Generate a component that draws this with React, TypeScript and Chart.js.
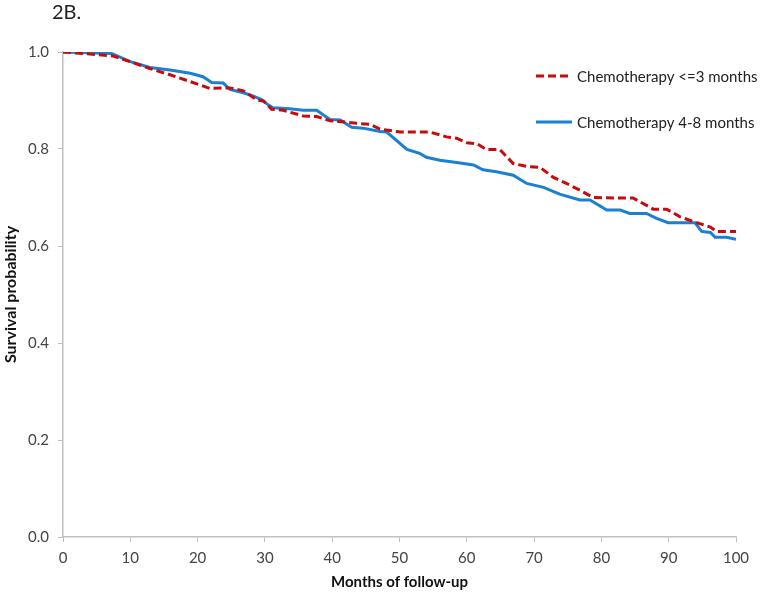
import React, { useEffect, useRef } from "react";
import { Chart, registerables } from "chart.js";

Chart.register(...registerables);

const panelTitle = "2B.";
const xTitle = "Months of follow-up";
const yTitle = "Survival probability";
const seriesLabels = ["Chemotherapy <=3 months", "Chemotherapy 4-8 months"];

const redMonths = [0, 7.4, 10, 12.9, 15.9, 18.9, 21.8, 24.8, 26.8, 28.8, 29.8, 31, 32.7, 35.7, 37.7, 39.7, 41.6, 43.6, 45.6, 47.1, 50.1, 54.5, 57, 58.5, 60, 61.5, 62.9, 64.9, 66.9, 68.9, 70.9, 72.8, 74.8, 76.8, 78.8, 81.8, 84.7, 87.7, 89.7, 91.7, 94.2, 96.2, 97.1, 100];
const redSurv = [1.0, 0.992, 0.98, 0.966, 0.953, 0.939, 0.925, 0.926, 0.92, 0.901, 0.899, 0.882, 0.88, 0.868, 0.867, 0.858, 0.856, 0.853, 0.851, 0.841, 0.835, 0.835, 0.825, 0.822, 0.813, 0.811, 0.799, 0.799, 0.77, 0.764, 0.762, 0.742, 0.729, 0.715, 0.7, 0.699, 0.699, 0.676, 0.676, 0.66, 0.648, 0.639, 0.63, 0.63];

const blueMonths = [0, 7.2, 10, 12.9, 15.9, 18.9, 20.8, 22.1, 23.8, 24.8, 26.8, 28.3, 29.5, 30.3, 31.2, 33.7, 35.7, 37.7, 38.7, 39.7, 41.2, 42.9, 44.6, 47.1, 48.1, 51.1, 53, 54, 56, 58.5, 61, 62.4, 64.4, 66.9, 68.9, 71.4, 73.8, 76.8, 78.3, 80.8, 82.8, 84.2, 86.7, 88.2, 89.9, 93.9, 94.9, 96.2, 96.9, 98.6, 100];
const blueSurv = [1.0, 0.997, 0.98, 0.968, 0.963, 0.956, 0.949, 0.937, 0.936, 0.923, 0.916, 0.909, 0.902, 0.893, 0.885, 0.883, 0.88, 0.88, 0.87, 0.861, 0.86, 0.845, 0.843, 0.836, 0.835, 0.799, 0.791, 0.783, 0.777, 0.772, 0.767, 0.757, 0.753, 0.746, 0.729, 0.721, 0.707, 0.695, 0.695, 0.674, 0.674, 0.667, 0.667, 0.657, 0.648, 0.648, 0.63, 0.628, 0.618, 0.618, 0.614];

const xTicks = [0, 10, 20, 30, 40, 50, 60, 70, 80, 90, 100];
const yTicks = [0, 0.2, 0.4, 0.6, 0.8, 1.0];

const RED = "#c80a0a";
const BLUE = "#1b80d2";
const FONT = "Lato, 'Open Sans', sans-serif";

const overlayPlugin = {
  id: "overlay",
  afterDraw(chart: any) {
    const ctx = chart.ctx;
    ctx.save();
    // panel title
    ctx.font = `20px ${FONT}`;
    ctx.fillStyle = "#222";
    ctx.textAlign = "left";
    ctx.textBaseline = "middle";
    ctx.fillText(panelTitle, 52, 13);
    // legend
    const colors = [RED, BLUE];
    const dashes = [[8, 4], []];
    const ys = [76, 122];
    seriesLabels.forEach((lab, i) => {
      ctx.beginPath();
      ctx.strokeStyle = colors[i];
      ctx.lineWidth = 3;
      ctx.setLineDash(dashes[i]);
      ctx.moveTo(536, ys[i]);
      ctx.lineTo(572, ys[i]);
      ctx.stroke();
      ctx.setLineDash([]);
      ctx.font = `15px ${FONT}`;
      ctx.fillStyle = "#222";
      ctx.textAlign = "left";
      ctx.textBaseline = "middle";
      ctx.fillText(lab, 577, ys[i] + 1);
    });
    ctx.restore();
  },
};

export default function App() {
  const ref = useRef<HTMLCanvasElement | null>(null);
  useEffect(() => {
    document.body.style.margin = "0";
    const canvas = ref.current!;
    const chart = new Chart(canvas, {
      type: "line",
      data: {
        datasets: [
          {
            label: seriesLabels[0],
            data: redMonths.map((m, i) => ({ x: m, y: redSurv[i] })),
            borderColor: RED,
            borderWidth: 3,
            borderDash: [8, 4],
            pointRadius: 0,
            tension: 0,
            fill: false,
          },
          {
            label: seriesLabels[1],
            data: blueMonths.map((m, i) => ({ x: m, y: blueSurv[i] })),
            borderColor: BLUE,
            borderWidth: 3,
            pointRadius: 0,
            tension: 0,
            fill: false,
          },
        ],
      },
      options: {
        animation: false,
        responsive: false,
        maintainAspectRatio: false,
        layout: { padding: { top: 52, right: 26, left: 0, bottom: 0 } },
        plugins: {
          legend: { display: false },
          tooltip: { enabled: false },
          title: { display: false },
        },
        scales: {
          x: {
            type: "linear",
            min: 0,
            max: 100,
            afterBuildTicks: (s: any) => {
              s.ticks = xTicks.map((v) => ({ value: v }));
            },
            afterFit: (s: any) => {
              s.height = 56;
            },
            grid: { display: true, drawOnChartArea: false, drawTicks: true, tickLength: 5, color: "#bfbfbf" },
            border: { display: true, color: "#bfbfbf", width: 1.5 },
            ticks: {
              padding: 7,
              color: "#444",
              font: { family: FONT, size: 15 },
              callback: (v: any) => String(v),
            },
            title: {
              display: true,
              text: xTitle,
              color: "#111",
              font: { family: FONT, size: 15, weight: "bold" },
              padding: { top: 0, bottom: 2 },
            },
          },
          y: {
            type: "linear",
            min: 0,
            max: 1,
            afterBuildTicks: (s: any) => {
              s.ticks = yTicks.map((v) => ({ value: v }));
            },
            afterFit: (s: any) => {
              s.width = 63;
            },
            grid: { display: true, drawOnChartArea: false, drawTicks: true, tickLength: 5, color: "#bfbfbf" },
            border: { display: true, color: "#bfbfbf", width: 1.5 },
            ticks: {
              padding: 9,
              color: "#444",
              font: { family: FONT, size: 15 },
              callback: (v: any) => Number(v).toFixed(1),
            },
            title: {
              display: true,
              text: yTitle,
              color: "#111",
              font: { family: FONT, size: 16, weight: "bold" },
              padding: { top: 1, bottom: 0 },
            },
          },
        },
      },
      plugins: [overlayPlugin],
    });
    return () => chart.destroy();
  }, []);
  return (
    <div style={{ width: 762, height: 593 }}>
      <canvas ref={ref} width={762} height={593} style={{ display: "block" }} />
    </div>
  );
}
